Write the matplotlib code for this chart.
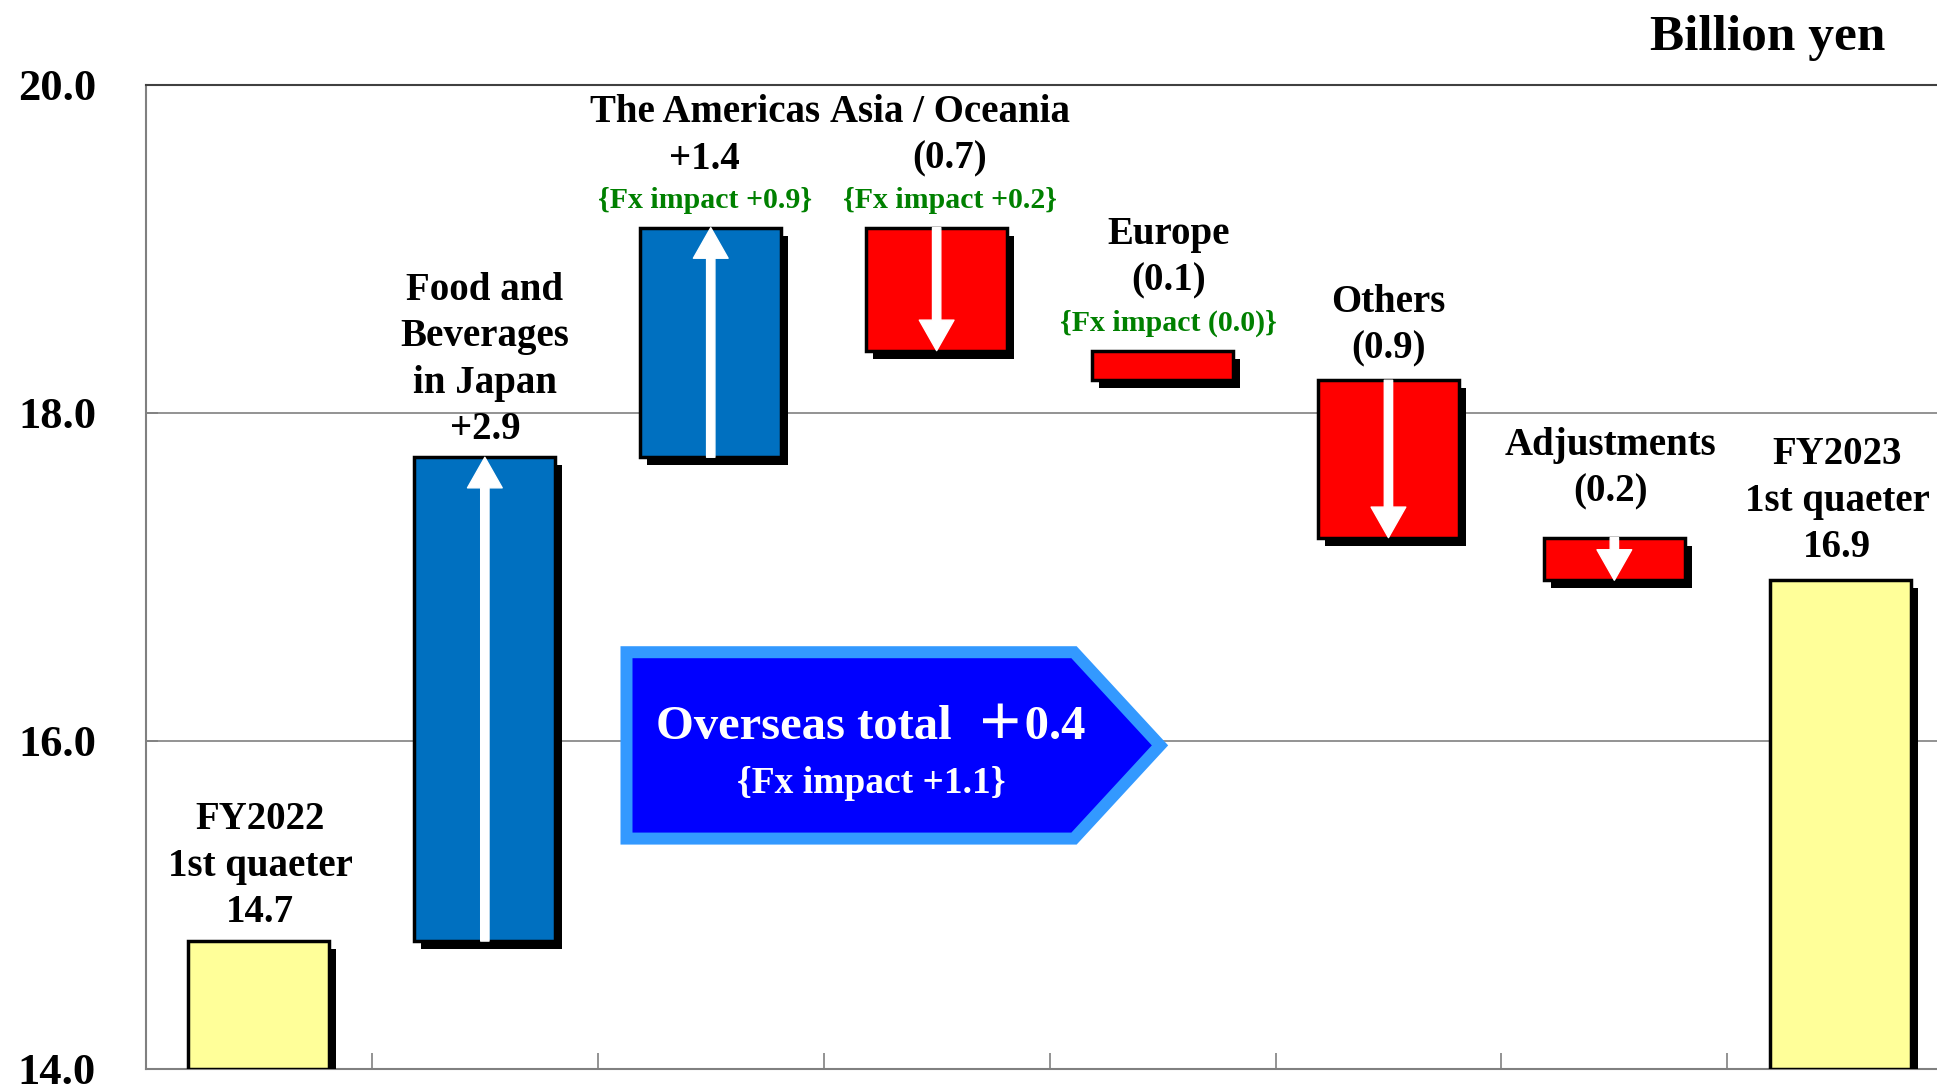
import numpy as np
import matplotlib
matplotlib.use("Agg")
import matplotlib.pyplot as plt
from matplotlib import patheffects as pe
from matplotlib.patches import Polygon

# ---------------- data ----------------
categories = ["FY2022\n1st quaeter", "Food and\nBeverages\nin Japan", "The Americas",
              "Asia / Oceania", "Europe", "Others", "Adjustments", "FY2023\n1st quaeter"]
value_labels = ["14.7", "+2.9", "+1.4", "(0.7)", "(0.1)", "(0.9)", "(0.2)", "16.9"]
fx_labels = [None, None, "{Fx impact +0.9}", "{Fx impact +0.2}", "{Fx impact (0.0)}",
             None, None, None]
start_value = 14.78
changes = [2.95, 1.40, -0.75, -0.18, -0.96, -0.26]
overseas_text = "Overseas total  \uff0b0.4"
overseas_fx = "{Fx impact +1.1}"
yticks = [14.0, 16.0, 18.0, 20.0]

# ---------------- layout ----------------
W, H, DPI = 1937, 1086, 100
PT = 72.0 / DPI  # px -> points
label_gap_px = [19, 18, 19.5, 19.5, 20.5, 21.5, 36, 23]
label_dx_px = [1, 0, -6, 13, 6, 0, -4, -3]
show_arrow = [False, True, True, True, False, True, True, False]
FONT = ["Liberation Serif", "Noto Sans CJK JP"]
YELLOW, BLUE, RED = "#FFFF99", "#0070C0", "#FF0000"
GREEN = "#008000"
GRAY = "#808080"

fig = plt.figure(figsize=(W / DPI, H / DPI), dpi=DPI)
ax = fig.add_axes([146 / W, 1 - 1069 / H, 1 - 146 / W, (1069 - 85) / H])
ax.set_xlim(-0.5, -0.5 + (W - 146) / 225.9)
ax.set_ylim(14.0, 20.0)

# compute waterfall
bottoms, heights, colors = [], [], []
cur = start_value
bottoms.append(14.0); heights.append(start_value - 14.0); colors.append(YELLOW)
for c in changes:
    bottoms.append(cur); heights.append(c); colors.append(BLUE if c > 0 else RED)
    cur += c
bottoms.append(14.0); heights.append(cur - 14.0); colors.append(YELLOW)

x = np.arange(len(categories))
shadow = [pe.SimplePatchShadow(offset=(7 * PT, -8 * PT), shadow_rgbFace="black", alpha=1.0),
          pe.Normal()]
bars = ax.bar(x, heights, bottom=bottoms, width=0.624, color=colors,
              edgecolor="black", linewidth=2.5, zorder=3)
for b in bars:
    b.set_path_effects(shadow)

# white arrows on change bars
for i in range(len(categories)):
    if not show_arrow[i]:
        continue
    s = bottoms[i]
    e = bottoms[i] + heights[i]
    ax.annotate("", xy=(x[i], e), xytext=(x[i], s),
                arrowprops=dict(arrowstyle="simple,head_length=1.1,head_width=1.25,tail_width=0.3",
                                mutation_scale=20, color="white", shrinkA=0, shrinkB=0),
                zorder=5)

# labels
line_step = 46.5
for i in range(len(categories)):
    top = max(bottoms[i], bottoms[i] + heights[i])
    dx = label_dx_px[i] * PT
    off = label_gap_px[i]
    if fx_labels[i]:
        ax.annotate(fx_labels[i], xy=(x[i], top), xytext=(dx, off * PT),
                    textcoords="offset points", ha="center", va="baseline",
                    fontsize=21.5, fontweight="bold", family=FONT, color=GREEN, zorder=6)
        off += 39.5
    lines = categories[i].split("\n") + [value_labels[i]]
    for ln in reversed(lines):
        ax.annotate(ln, xy=(x[i], top), xytext=(dx, off * PT),
                    textcoords="offset points", ha="center", va="baseline",
                    fontsize=28, fontweight="bold", family=FONT, color="black", zorder=6)
        off += line_step

# overseas box
def X(px):
    return (px - 146) / 225.9 - 0.5
def Y(py):
    return 14 + (1069 - py) / 164.2
poly = Polygon([(X(626.5), Y(651.7)), (X(1074), Y(651.7)), (X(1160), Y(745)),
                (X(1074), Y(838.3)), (X(626.5), Y(838.3))], closed=True,
               facecolor="#0000FF", edgecolor="#3399FF", linewidth=12 * PT,
               joinstyle="miter", zorder=4)
ax.add_patch(poly)
ax.text(X(871), Y(738.3), overseas_text, ha="center", va="baseline", fontsize=35,
        fontweight="bold", family=FONT, color="white", zorder=6)
ax.text(X(871), Y(792.7), overseas_fx, ha="center", va="baseline", fontsize=27,
        fontweight="bold", family=FONT, color="white", zorder=6)

# axes styling
ax.set_yticks(yticks)
ax.set_yticklabels([f"{v:.1f}" for v in yticks], fontsize=32, fontweight="bold",
                   family=FONT)
ax.tick_params(axis="y", direction="in", length=12 * PT, width=1.2, color=GRAY,
               pad=36, labelcolor="black")
ax.set_xticks(np.arange(0.5, len(categories) - 1, 1.0))
ax.set_xticklabels([])
ax.tick_params(axis="x", direction="in", length=16 * PT, width=1.2, color=GRAY)
ax.yaxis.grid(True, color=GRAY, linewidth=1.2, zorder=0)
ax.set_axisbelow(True)
ax.spines["right"].set_visible(False)
for sp in ["left", "bottom", "top"]:
    ax.spines[sp].set_color(GRAY)
    ax.spines[sp].set_linewidth(1.5)
ax.spines["top"].set_color("#404040")

fig.text(1885 / W, 1 - 50 / H, "Billion yen", ha="right", va="baseline", fontsize=37,
         fontweight="bold", family=FONT, color="black")

fig.savefig("out.png", dpi=DPI, facecolor="white")
